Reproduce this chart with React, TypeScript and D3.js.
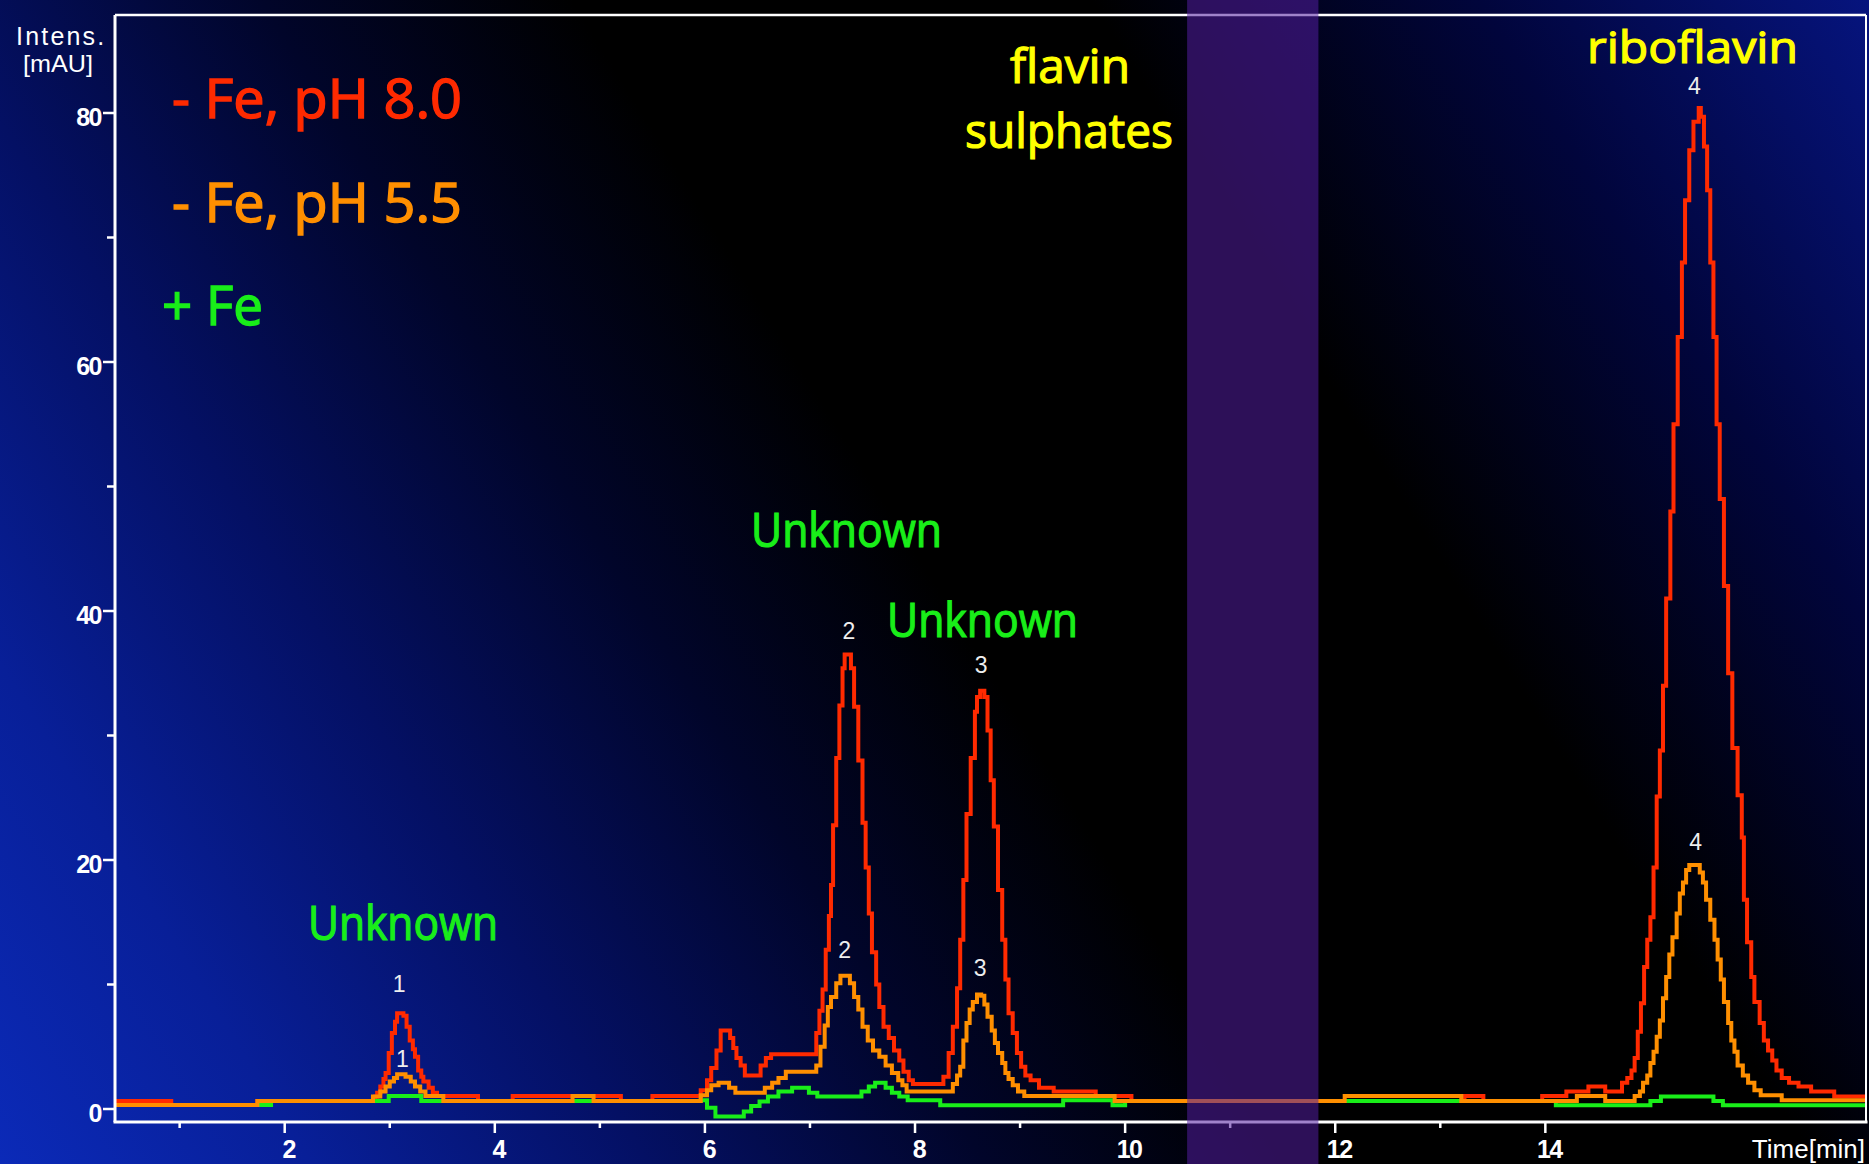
import React from 'react';
import * as d3 from 'd3';

const W = 1869;
const H = 1164;

// HPLC traces: [retention time (min), intensity (mAU)], sampled as steps
const noIronPH80: [number, number][] = [
  [0.38, 0.64], [0.92, 0.32], [1.74, 0.64], [2.86, 1.0], [2.88, 1.3], [2.91, 1.8], [2.94, 2.4],
  [2.96, 2.9], [2.99, 4.5], [3.02, 6.1], [3.05, 7.0], [3.07, 7.7], [3.13, 7.5], [3.16, 6.6],
  [3.19, 5.5], [3.22, 4.8], [3.24, 4.2], [3.27, 3.1], [3.30, 2.6], [3.32, 2.2], [3.37, 1.7],
  [3.41, 1.3], [3.45, 1.04], [3.84, 0.64], [4.17, 1.04], [5.2, 0.64], [5.5, 1.04],
  [5.96, 1.5], [6.02, 2.3], [6.06, 3.3], [6.11, 4.7], [6.15, 6.3], [6.24, 5.7], [6.27, 4.9],
  [6.30, 4.1], [6.34, 3.5], [6.38, 2.7], [6.53, 3.5], [6.58, 4.1], [6.63, 4.4], [7.06, 6.1],
  [7.09, 7.9], [7.12, 9.6], [7.15, 12.8], [7.18, 15.5], [7.20, 18.0], [7.22, 22.8], [7.25, 28.2],
  [7.28, 32.4], [7.31, 35.4], [7.33, 36.5], [7.39, 35.4], [7.42, 32.3], [7.46, 28.0], [7.50, 23.0],
  [7.53, 19.4], [7.56, 15.7], [7.59, 12.6], [7.63, 10.0], [7.66, 8.2], [7.70, 6.6], [7.75, 5.7],
  [7.80, 4.7], [7.85, 3.9], [7.89, 3.0], [7.94, 2.3], [7.98, 2.0], [8.27, 2.6], [8.32, 4.5],
  [8.36, 6.6], [8.40, 9.7], [8.43, 13.6], [8.46, 18.4], [8.49, 23.7], [8.53, 28.2], [8.57, 31.9],
  [8.59, 33.1], [8.62, 33.6], [8.66, 33.1], [8.69, 30.4], [8.72, 26.4], [8.75, 22.7], [8.79, 17.6],
  [8.83, 13.6], [8.86, 10.4], [8.89, 7.7], [8.93, 6.1], [8.97, 4.5], [9.01, 3.4], [9.05, 2.7],
  [9.10, 2.3], [9.18, 1.7], [9.32, 1.4], [9.72, 1.04], [10.06, 0.64], [13.23, 1.04], [13.41, 0.64],
  [13.97, 1.04], [14.20, 1.4], [14.41, 1.8], [14.57, 1.4], [14.73, 2.1], [14.78, 2.5], [14.82, 3.1],
  [14.85, 4.1], [14.88, 6.2], [14.91, 8.5], [14.94, 11.4], [14.97, 13.6], [15.00, 15.4],
  [15.03, 19.4], [15.06, 25.1], [15.09, 28.8], [15.12, 34.0], [15.15, 41.0], [15.19, 48.0],
  [15.22, 55.0], [15.26, 62.0], [15.30, 68.0], [15.33, 73.0], [15.37, 77.0], [15.41, 79.3],
  [15.46, 80.4], [15.48, 79.7], [15.51, 77.3], [15.54, 73.8], [15.57, 68.0], [15.60, 62.0],
  [15.63, 55.0], [15.66, 49.0], [15.70, 42.0], [15.74, 35.0], [15.78, 29.0], [15.83, 25.2],
  [15.87, 21.8], [15.89, 16.8], [15.92, 13.4], [15.96, 10.6], [15.99, 8.6], [16.04, 6.9],
  [16.08, 5.5], [16.12, 4.7], [16.16, 3.9], [16.20, 3.1], [16.25, 2.5], [16.32, 2.1], [16.41, 1.8],
  [16.53, 1.4], [16.75, 1.0], [17.1, 1.0],
];

const noIronPH55: [number, number][] = [
  [0.38, 0.32], [1.74, 0.64], [2.84, 1.0], [2.91, 1.4], [2.96, 1.8], [3.00, 2.2], [3.04, 2.5],
  [3.07, 2.8], [3.15, 2.6], [3.20, 2.2], [3.24, 1.8], [3.29, 1.4], [3.34, 1.04], [3.51, 0.64],
  [4.74, 1.04], [4.94, 0.64], [5.96, 1.1], [6.02, 1.5], [6.06, 1.9], [6.13, 2.1], [6.23, 1.7],
  [6.29, 1.3], [6.57, 1.7], [6.64, 2.1], [6.70, 2.5], [6.77, 3.0], [7.06, 3.5], [7.10, 5.0],
  [7.14, 6.7], [7.17, 8.2], [7.20, 9.0], [7.25, 10.1], [7.29, 10.7], [7.38, 10.1], [7.42, 9.0],
  [7.46, 8.0], [7.50, 6.6], [7.55, 5.5], [7.60, 4.7], [7.66, 4.2], [7.72, 3.5], [7.78, 2.9],
  [7.84, 2.3], [7.88, 1.9], [7.92, 1.4], [8.36, 2.0], [8.40, 2.7], [8.43, 3.4], [8.46, 5.5],
  [8.49, 6.9], [8.52, 8.0], [8.55, 8.6], [8.59, 9.2], [8.63, 9.1], [8.66, 8.4], [8.69, 7.4],
  [8.73, 6.3], [8.76, 5.3], [8.79, 4.5], [8.83, 3.7], [8.86, 2.9], [8.89, 2.4], [8.93, 1.9],
  [8.98, 1.4], [9.04, 1.04], [9.90, 0.64], [12.09, 1.04], [13.20, 0.64], [14.30, 1.04],
  [14.57, 0.64], [14.85, 1.04], [14.90, 1.4], [14.93, 2.1], [14.97, 2.7], [15.00, 3.7],
  [15.03, 4.6], [15.06, 5.8], [15.09, 7.1], [15.12, 8.9], [15.15, 10.6], [15.18, 12.4],
  [15.21, 13.8], [15.25, 15.7], [15.28, 17.3], [15.31, 18.2], [15.34, 19.2], [15.37, 19.6],
  [15.47, 19.0], [15.50, 18.2], [15.53, 16.8], [15.57, 15.2], [15.61, 13.6], [15.64, 12.0],
  [15.67, 10.4], [15.70, 8.6], [15.74, 6.9], [15.77, 5.5], [15.80, 4.6], [15.83, 3.5],
  [15.88, 2.7], [15.93, 2.1], [15.99, 1.5], [16.05, 1.1], [16.25, 0.7], [17.1, 0.7],
];

const withIron: [number, number][] = [
  [0.38, 0.32], [1.87, 0.64], [2.99, 1.04], [3.30, 0.64], [5.96, 0.7], [6.02, 0.1], [6.10, -0.6],
  [6.37, -0.2], [6.44, 0.25], [6.52, 0.6], [6.60, 1.0], [6.70, 1.4], [6.83, 1.7], [6.99, 1.3],
  [7.07, 1.0], [7.49, 1.4], [7.56, 1.8], [7.62, 2.1], [7.72, 1.7], [7.78, 1.3], [7.85, 1.0],
  [7.93, 0.7], [8.24, 0.3], [9.41, 0.7], [9.88, 0.3], [10.0, 0.64], [14.10, 0.3], [15.00, 0.64],
  [15.10, 1.0], [15.60, 0.64], [15.69, 0.3], [17.1, 0.3],
];

const xMajorTicks = [2, 4, 6, 8, 10, 12, 14];
const xMinorTicks = [1, 3, 5, 7, 9, 11, 13];
const yMajorTicks = [0, 20, 40, 60, 80];
const yMinorTicks = [10, 30, 50, 70];

// retention window of the flavin sulphates (min)
const sulphateWindow: [number, number] = [10.59, 11.84];

// numbered peaks: [label, retention time, apex intensity, trace]
const peakNumbers: [string, number, number, string][] = [
  ['1', 3.09, 7.7, 'red'], ['1', 3.12, 2.8, 'orange'],
  ['2', 7.37, 36.5, 'red'], ['2', 7.33, 10.7, 'orange'],
  ['3', 8.63, 33.6, 'red'], ['3', 8.62, 9.2, 'orange'],
  ['4', 15.42, 80.4, 'red'], ['4', 15.43, 19.6, 'orange'],
];

const legendItems = ['- Fe, pH 8.0', '- Fe, pH 5.5', '+ Fe'];

const RED = '#ff2a00';
const ORANGE = '#ff8f00';
const GREEN = '#19ee19';
const YELLOW = '#ffff00';

const plot = { left: 115, right: 1866, top: 15, bottom: 1122 };

export default function App() {
  const x = d3.scaleLinear().domain([0, 17]).range([74.6, 1860.5]);
  const y = d3.scaleLinear().domain([0, 80]).range([1109, 113]);

  const line = d3
    .line<[number, number]>()
    .x((d) => x(d[0]))
    .y((d) => y(d[1]))
    .curve(d3.curveStepAfter);

  const comic = "'Comic Sans MS', 'Open Sans', sans-serif";
  const arial = "'Liberation Sans', Arial, sans-serif";

  const labelGap: Record<string, number> = {
    '1red': 21, '1orange': 7, '2red': 16, '2orange': 18,
    '3red': 18, '3orange': 18, '4red': 14, '4orange': 15,
  };

  return (
    <svg
      width={W}
      height={H}
      viewBox={`0 0 ${W} ${H}`}
      style={{ position: 'absolute', left: 0, top: 0, display: 'block' }}
    >
      <defs>
        <linearGradient id="bg" gradientUnits="userSpaceOnUse" x1={0} y1={H} x2={W} y2={0}>
          <stop offset="0" stopColor="#0b2ab8" />
          <stop offset="0.12" stopColor="#081f98" />
          <stop offset="0.25" stopColor="#041064" />
          <stop offset="0.38" stopColor="#01052a" />
          <stop offset="0.5" stopColor="#000000" />
          <stop offset="0.7" stopColor="#000000" />
          <stop offset="0.85" stopColor="#01053c" />
          <stop offset="1" stopColor="#06147e" />
        </linearGradient>
        <clipPath id="plotClip">
          <rect x={plot.left + 1} y={plot.top} width={plot.right - plot.left - 1} height={plot.bottom - plot.top - 1} />
        </clipPath>
      </defs>

      <rect x={0} y={0} width={W} height={H} fill="url(#bg)" />

      {/* traces */}
      <g clipPath="url(#plotClip)" fill="none" strokeWidth={4} strokeLinejoin="miter">
        <path d={line(noIronPH80) ?? ''} stroke={RED} />
        <path d={line(withIron) ?? ''} stroke={GREEN} />
        <path d={line(noIronPH55) ?? ''} stroke={ORANGE} />
      </g>

      {/* frame */}
      <g stroke="#ffffff" strokeWidth={3} fill="none">
        <line x1={plot.left} y1={plot.top} x2={plot.left} y2={plot.bottom} />
        <line x1={plot.left - 1.5} y1={plot.bottom} x2={plot.right + 1.5} y2={plot.bottom} />
        <line x1={plot.left} y1={plot.top} x2={plot.right} y2={plot.top} strokeWidth={2.5} />
        <line x1={plot.right} y1={plot.top} x2={plot.right} y2={plot.bottom} strokeWidth={2} />
      </g>

      {/* y axis */}
      <g stroke="#ffffff" strokeWidth={2.5}>
        {yMajorTicks.map((v) => (
          <line key={`ym${v}`} x1={plot.left - 12} x2={plot.left} y1={y(v)} y2={y(v)} />
        ))}
        {yMinorTicks.map((v) => (
          <line key={`yn${v}`} x1={plot.left - 8} x2={plot.left} y1={y(v)} y2={y(v)} />
        ))}
      </g>
      <g fill="#ffffff" fontFamily={arial} fontWeight="bold" fontSize={25} textAnchor="end">
        {yMajorTicks.map((v) => (
          <text key={`yl${v}`} x={101} y={y(v) + 13} letterSpacing={-1.5}>
            {v}
          </text>
        ))}
      </g>
      <text x={16} y={45} fill="#ffffff" fontFamily={arial} fontSize={25} letterSpacing={2.2}>
        Intens.
      </text>
      <text x={23} y={72} fill="#ffffff" fontFamily={arial} fontSize={24} textLength={70} lengthAdjust="spacingAndGlyphs">
        [mAU]
      </text>

      {/* x axis */}
      <g stroke="#ffffff" strokeWidth={2.5}>
        {xMajorTicks.map((t) => (
          <line key={`xm${t}`} x1={x(t)} x2={x(t)} y1={plot.bottom} y2={plot.bottom + 11} />
        ))}
        {xMinorTicks.map((t) => (
          <line key={`xn${t}`} x1={x(t)} x2={x(t)} y1={plot.bottom} y2={plot.bottom + 6} />
        ))}
      </g>
      <g fill="#ffffff" fontFamily={arial} fontWeight="bold" fontSize={25} textAnchor="middle">
        {xMajorTicks.map((t) => (
          <text key={`xl${t}`} x={x(t) + 4} y={1158} letterSpacing={-1.5}>
            {t}
          </text>
        ))}
      </g>
      <text x={1865} y={1158} fill="#ffffff" fontFamily={arial} fontSize={26} textAnchor="end">
        Time[min]
      </text>

      {/* peak numbers */}
      <g fill="#eeeeee" fontFamily={arial} fontSize={23} textAnchor="middle">
        {peakNumbers.map(([lab, t, v, trace]) => (
          <text key={`p${lab}${trace}`} x={x(t)} y={y(v) - labelGap[lab + trace]}>
            {lab}
          </text>
        ))}
      </g>

      {/* legend */}
      <g fontFamily={comic} fontSize={54} strokeWidth={1.4}>
        <text x={172} y={118} fill={RED} stroke={RED} textLength={290} lengthAdjust="spacingAndGlyphs">
          {legendItems[0]}
        </text>
        <text x={172} y={222} fill={ORANGE} stroke={ORANGE} textLength={290} lengthAdjust="spacingAndGlyphs">
          {legendItems[1]}
        </text>
        <text x={162} y={325} fill={GREEN} stroke={GREEN} textLength={101} lengthAdjust="spacingAndGlyphs">
          {legendItems[2]}
        </text>
      </g>

      {/* compound annotations */}
      <g fontFamily={comic} fontSize={48} strokeWidth={1.2}>
        <text x={308} y={940} fill={GREEN} stroke={GREEN} textLength={190} lengthAdjust="spacingAndGlyphs">Unknown</text>
        <text x={751} y={547} fill={GREEN} stroke={GREEN} textLength={191} lengthAdjust="spacingAndGlyphs">Unknown</text>
        <text x={887} y={637} fill={GREEN} stroke={GREEN} textLength={191} lengthAdjust="spacingAndGlyphs">Unknown</text>
        <text x={1010} y={83} fill={YELLOW} stroke={YELLOW} textLength={120} lengthAdjust="spacingAndGlyphs">flavin</text>
        <text x={965} y={148} fill={YELLOW} stroke={YELLOW} textLength={208} lengthAdjust="spacingAndGlyphs">sulphates</text>
        <text x={1587} y={63} fill={YELLOW} stroke={YELLOW} fontSize={44} textLength={211} lengthAdjust="spacingAndGlyphs">riboflavin</text>
      </g>

      {/* sulphate elution window */}
      <rect
        x={x(sulphateWindow[0])}
        y={0}
        width={x(sulphateWindow[1]) - x(sulphateWindow[0])}
        height={H}
        fill="#521da0"
        fillOpacity={0.55}
      />
    </svg>
  );
}
